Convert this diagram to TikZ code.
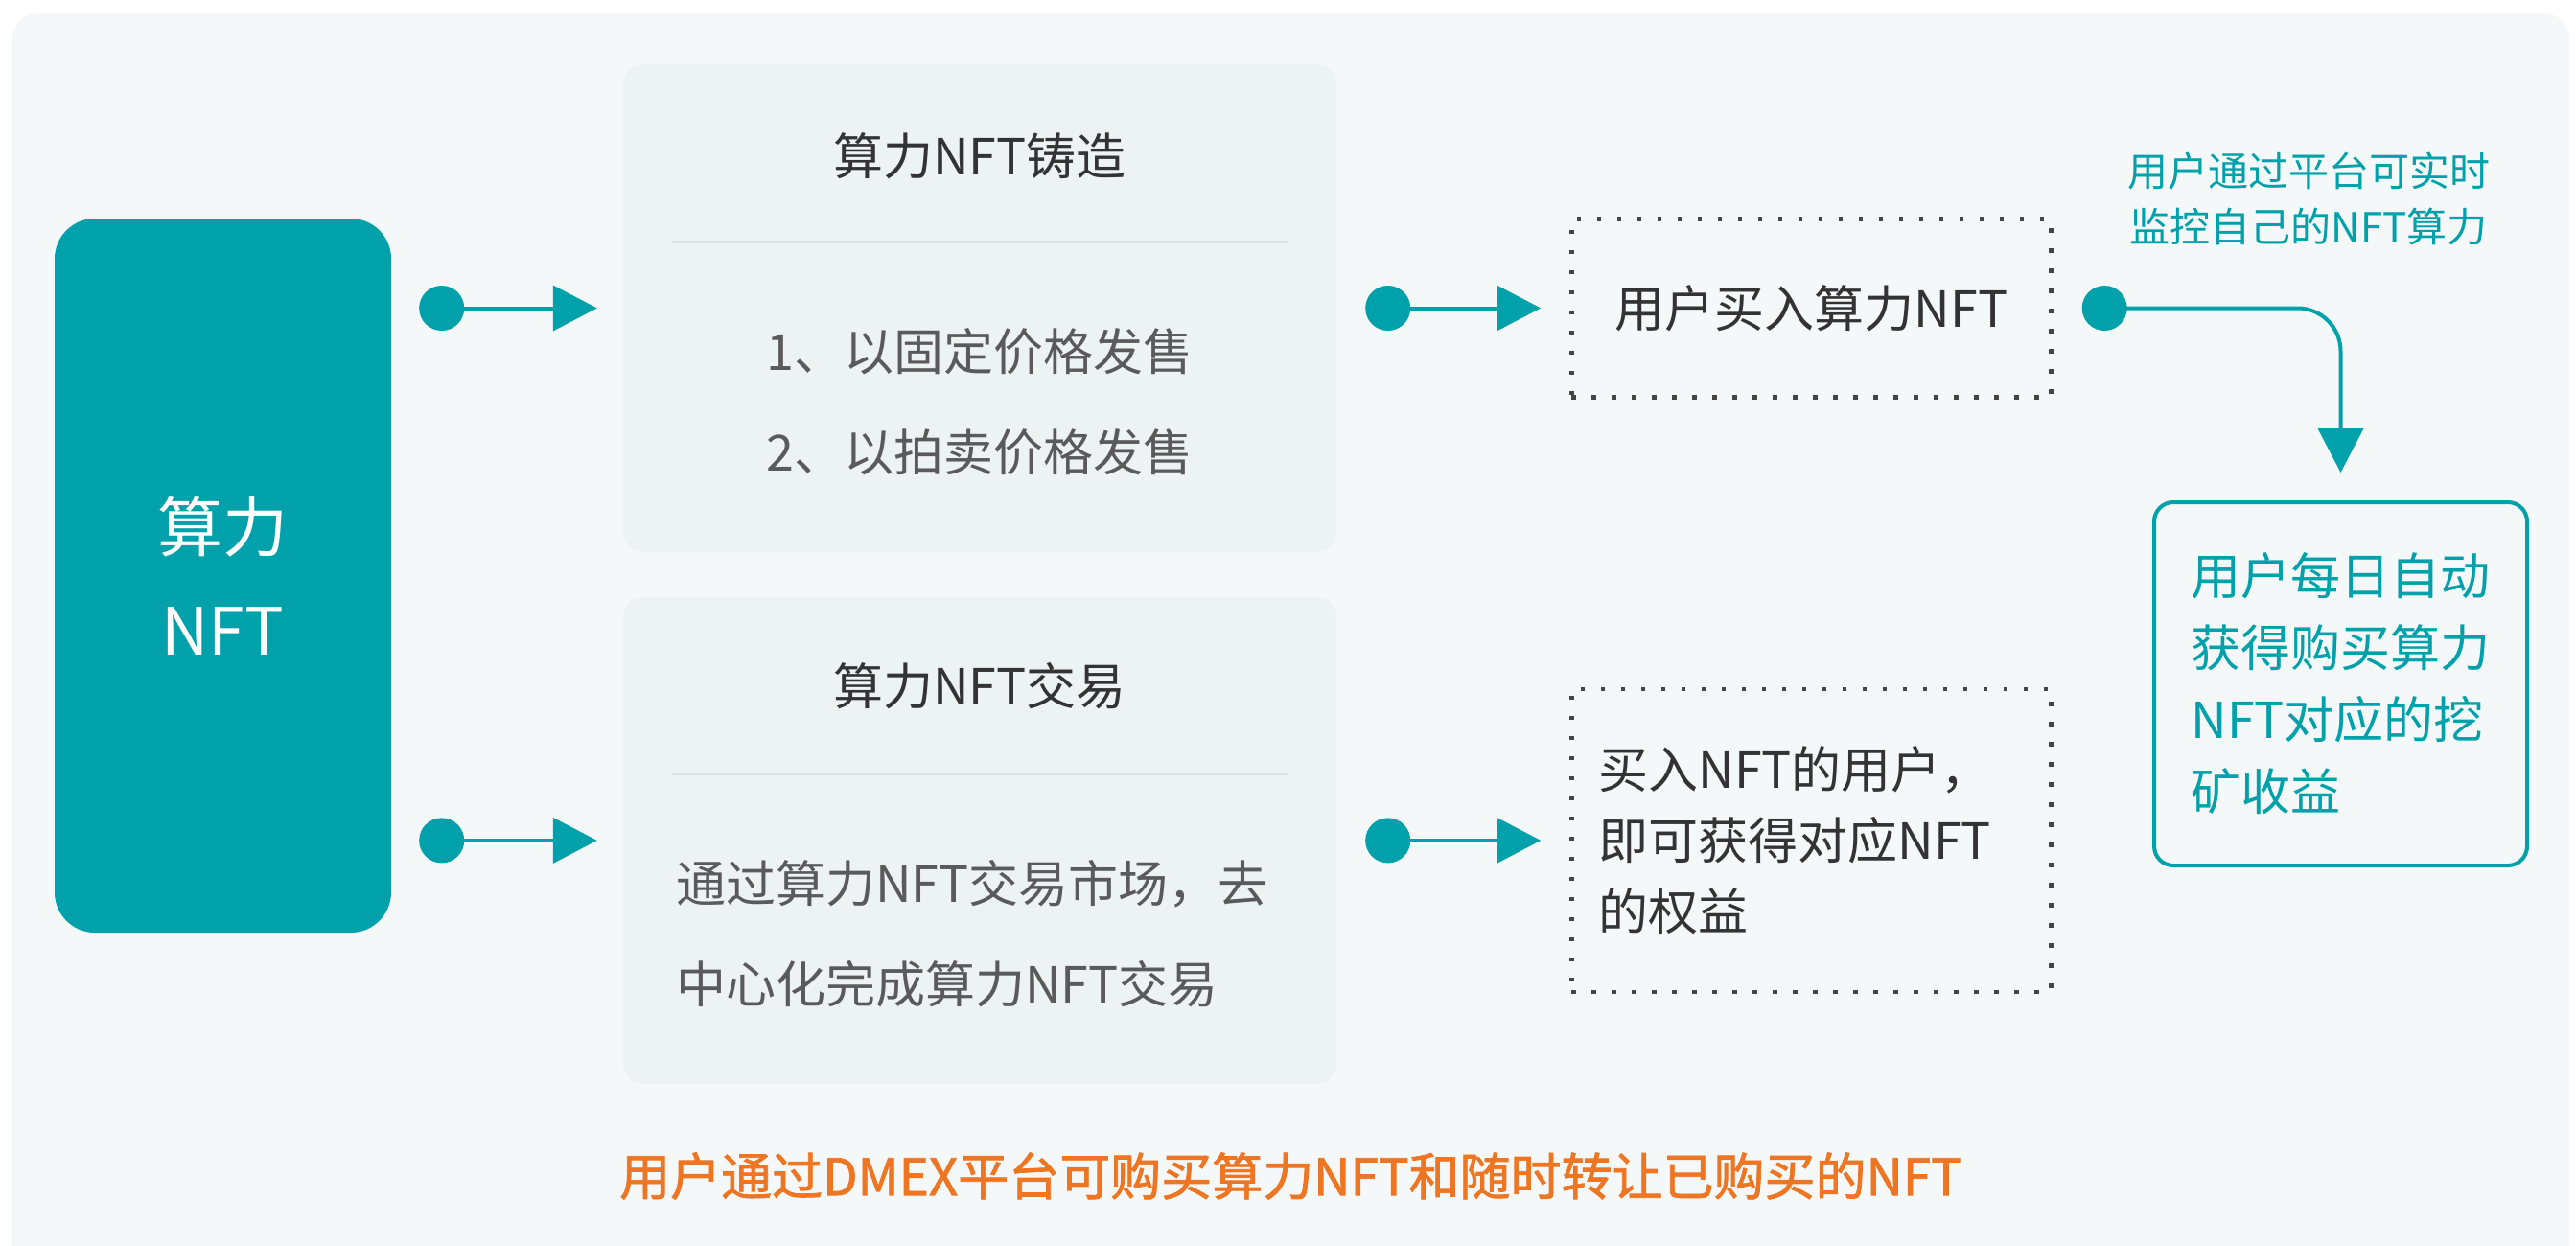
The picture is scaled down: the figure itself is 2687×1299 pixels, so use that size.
\documentclass[tikz,border=0pt]{standalone}
\usepackage{fontspec}
\setmainfont{Noto Sans CJK SC}
\newfontfamily\slogfont{Noto Sans CJK SC}[
  BoldFont={Noto Sans CJK SC}, BoldFeatures={FakeBold=1.4}]
\usetikzlibrary{arrows.meta, positioning}

\definecolor{nftteal}{HTML}{00A1AA}
\definecolor{pagebg}{HTML}{F5F8F9}
\definecolor{cardgray}{HTML}{EDF2F2}
\definecolor{rulegray}{HTML}{DDE3E4}
\definecolor{textdark}{HTML}{333333}
\definecolor{textgray}{HTML}{5A5A5A}
\definecolor{dotgray}{HTML}{444444}
\definecolor{sloganorange}{HTML}{EE7521}

\tikzstyle{corebox} = [
  rectangle, rounded corners=42pt, minimum width=351pt, minimum height=745pt,
  fill=nftteal, text=white, align=center, font=\fontsize{68}{108}\selectfont
]
\tikzstyle{card} = [
  rectangle, rounded corners=20pt, minimum width=744pt, minimum height=508pt,
  fill=cardgray
]
\tikzstyle{dotbox} = [
  rectangle, minimum width=500pt, draw=dotgray, line width=4.5pt,
  dash pattern=on 4.5pt off 16.5pt, text=textdark,
  font=\fontsize{52}{74}\selectfont
]
\tikzstyle{resultbox} = [
  rectangle, rounded corners=20pt, minimum width=389pt, minimum height=379pt,
  draw=nftteal, line width=4pt, text=nftteal, align=left,
  font=\fontsize{52}{75}\selectfont
]
\tikzstyle{cardtitle} = [text=textdark, font=\fontsize{52}{60}\selectfont]
\tikzstyle{cardbody} = [text=textgray, font=\fontsize{52}{105}\selectfont]
\tikzset{
  arrow/.style={
    line width=4pt, draw=nftteal,
    {Circle[length=47pt]}-{Triangle[length=46pt,width=47pt]}
  },
  rulesep/.style={line width=3pt, draw=rulegray}
}

\begin{document}
\begin{tikzpicture}[x=1pt, y=-1pt]

% ------------------------------------------------
% Fondo
% ------------------------------------------------
\useasboundingbox (0,0) rectangle (2687,1299);
\fill[white] (0,0) rectangle (2687,1299);
\fill[pagebg, rounded corners=26pt] (13,14) rectangle (2680,1340);

% ------------------------------------------------
% Bloque principal
% ------------------------------------------------
\node[corebox] (nft) at (232.5,600.5) {算力\\NFT};

% ------------------------------------------------
% Tarjetas: 铸造 / 交易
% ------------------------------------------------
\node[card] (mint) at (1022,321.5) {};
\node[card, below=47pt of mint] (trade) {};

\node[cardtitle] (minttitle) at ([yshift=-95pt]mint.north) {算力NFT铸造};
\draw[rulesep] ([xshift=51pt,yshift=-185pt]mint.north west)
  -- ([xshift=-51pt,yshift=-185pt]mint.north east);
\node[cardbody, align=center] (mintbody) at ([yshift=-351.5pt]mint.north) {%
  1、以固定价格发售\\
  2、以拍卖价格发售
};

\node[cardtitle] (tradetitle) at ([yshift=-93pt]trade.north) {算力NFT交易};
\draw[rulesep] ([xshift=51pt,yshift=-185pt]trade.north west)
  -- ([xshift=-51pt,yshift=-185pt]trade.north east);
\node[cardbody, align=left, anchor=west] (tradebody)
  at ([xshift=52pt,yshift=-351pt]trade.north west) {%
  通过算力NFT交易市场，去\\
  中心化完成算力NFT交易
};

% ------------------------------------------------
% Cajas punteadas y resultado
% ------------------------------------------------
\node[dotbox, minimum height=186pt, right=243pt of mint] (buy) {用户买入算力NFT};
\node[dotbox, minimum height=316pt, right=243pt of trade,
  text width=444pt, inner xsep=28pt, align=left] (rights) {%
  买入NFT的用户，\\
  即可获得对应NFT\\
  的权益
};

\node[resultbox] (income) at (2441.5,713.5) {%
  用户每日自动\\
  获得购买算力\\
  NFT对应的挖\\
  矿收益
};

\node[text=nftteal, align=center, font=\fontsize{42}{58}\selectfont]
  (monitor) at (2408,207) {%
  用户通过平台可实时\\
  监控自己的NFT算力
};

% ------------------------------------------------
% Flechas
% ------------------------------------------------
\draw[arrow, shorten <=29pt, shorten >=27pt] (mint.west -| nft.east) -- (mint.west);
\draw[arrow, shorten <=29pt, shorten >=27pt] (trade.west -| nft.east) -- (trade.west);

\draw[arrow, shorten <=30pt, shorten >=30pt] (mint.east) -- (buy.west);
\draw[arrow, shorten <=30pt, shorten >=30pt] (trade.east) -- (rights.west);

\draw[arrow, rounded corners=45pt, shorten <=30pt, shorten >=29pt]
  (buy.east) -| (income.north);

% ------------------------------------------------
% Texto inferior
% ------------------------------------------------
\node[text=sloganorange, font=\slogfont\fontsize{53}{60}\selectfont\bfseries]
  (slogan) at (1346,1227) {用户通过DMEX平台可购买算力NFT和随时转让已购买的NFT};

\end{tikzpicture}
\end{document}
